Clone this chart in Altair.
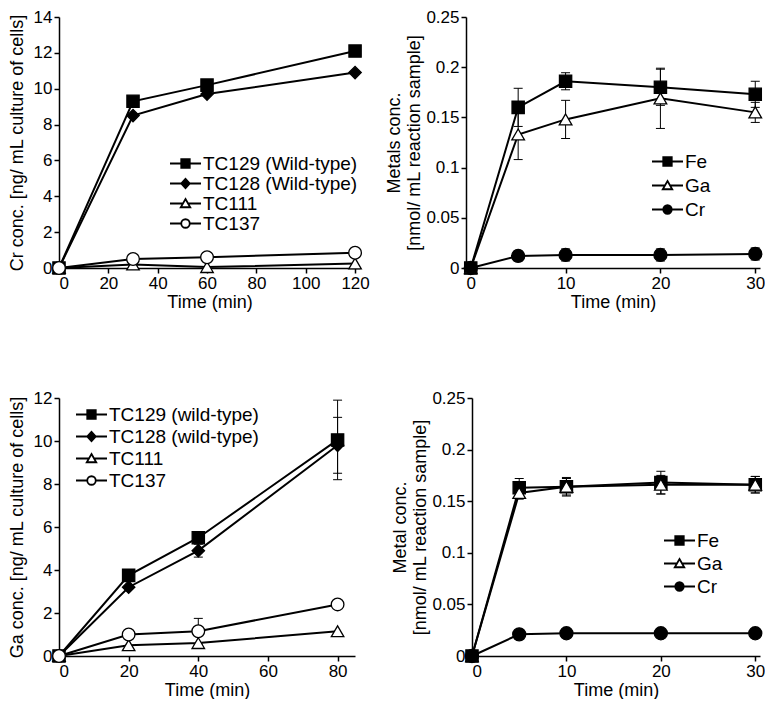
import altair as alt
import pandas as pd

FONT = "Liberation Sans"

# ---------------- Panel A: Cr uptake by strains ----------------
a_time = [0, 30, 60, 120]
a_series = ["TC129 (Wild-type)", "TC128 (Wild-type)", "TC111", "TC137"]
a_tc129 = [0, 9.3, 10.2, 12.1]
a_tc128 = [0, 8.5, 9.7, 10.9]
a_tc111 = [0, 0.2, 0.05, 0.25]
a_tc137 = [0, 0.5, 0.6, 0.85]

# ---------------- Panel B: metals in reaction sample ----------------
b_time = [0, 5, 10, 20, 30]
b_series = ["Fe", "Ga", "Cr"]
b_fe = [0, 0.160, 0.186, 0.180, 0.173]
b_fe_err = [0, 0.019, 0.0085, 0.018, 0.013]
b_ga = [0, 0.133, 0.148, 0.169, 0.155]
b_ga_err = [0, 0.025, 0.019, 0.030, 0.010]
b_cr = [0, 0.012, 0.013, 0.013, 0.014]
b_cr_err = [0, 0.005, 0.006, 0.006, 0.006]

# ---------------- Panel C: Ga uptake by strains ----------------
c_time = [0, 20, 40, 80]
c_series = ["TC129 (wild-type)", "TC128 (wild-type)", "TC111", "TC137"]
c_tc129 = [0, 3.75, 5.5, 10.05]
c_tc129_err = [0, 0, 0, 1.85]
c_tc128 = [0, 3.2, 4.9, 9.8]
c_tc128_err = [0, 0, 0.3, 1.3]
c_tc111 = [0, 0.5, 0.6, 1.15]
c_tc111_err = [0, 0, 0, 0]
c_tc137 = [0, 1.0, 1.15, 2.4]
c_tc137_err = [0, 0, 0.6, 0]

# ---------------- Panel D: metals in reaction sample ----------------
d_time = [0, 5, 10, 20, 30]
d_series = ["Fe", "Ga", "Cr"]
d_fe = [0, 0.163, 0.164, 0.168, 0.166]
d_fe_err = [0, 0.009, 0.009, 0.011, 0.008]
d_ga = [0, 0.158, 0.164, 0.166, 0.166]
d_ga_err = [0, 0.006, 0.008, 0.009, 0.008]
d_cr = [0, 0.021, 0.022, 0.022, 0.022]
d_cr_err = [0, 0, 0, 0, 0]


def long_df(times, series, values, errors=None):
    rows = []
    for i, s in enumerate(series):
        for j, t in enumerate(times):
            v = values[i][j]
            e = errors[i][j] if errors is not None else 0
            rows.append({"t": t, "v": v, "s": s, "lo": v - e, "hi": v + e, "e": e})
    return pd.DataFrame(rows)


# legend symbol paths (unit box scaled by sqrt(symbolSize)/2)
L = "M-3.1,0L3.1,0"
P_SQUARE = L + "M-0.85,-0.85L0.85,-0.85L0.85,0.85L-0.85,0.85Z"
P_DIAMOND = L + "M0,-0.95L0.85,0L0,0.95L-0.85,0Z"
P_TRI = "M-3.1,0L-0.45,0M0.45,0L3.1,0M0,-0.9L0.95,0.75L-0.95,0.75Z"
P_CIRC_OPEN = "M-3.1,0L-0.85,0M0.85,0L3.1,0M0.85,0A0.85,0.85,0,1,1,-0.85,0A0.85,0.85,0,1,1,0.85,0Z"
P_CIRC = L + "M0.85,0A0.85,0.85,0,1,1,-0.85,0A0.85,0.85,0,1,1,0.85,0Z"


def panel(df, series, shapes, fills, sizes, leg_paths, xdom, xvals, ydom, yvals,
          yfmt, ytitle, ytp, w, h, lx, ly, rowpad):
    base = alt.Chart(df)
    xs = alt.Scale(domain=xdom, nice=False, zero=False)
    ys = alt.Scale(domain=ydom, nice=False)
    xax = alt.Axis(values=xvals, title="Time (min)", labelOverlap=False)
    yax = alt.Axis(values=yvals, format=yfmt, title=ytitle,
                   titlePadding=ytp, labelOverlap=False)

    def X():
        return alt.X("t:Q", scale=xs, axis=xax)

    def Y(f):
        return alt.Y(f + ":Q", scale=ys, axis=yax)

    lines = base.mark_line(color="black", strokeWidth=2).encode(
        x=X(), y=Y("v"), detail="s:N", order="t:Q")
    errd = base.transform_filter("datum.e > 0")
    rules = errd.mark_rule(color="black", strokeWidth=1).encode(
        x=X(), y=Y("lo"), y2="hi:Q")
    cap_lo = errd.mark_tick(color="black", orient="horizontal", size=9,
                            thickness=1, opacity=1).encode(x=X(), y=Y("lo"))
    cap_hi = errd.mark_tick(color="black", orient="horizontal", size=9,
                            thickness=1, opacity=1).encode(x=X(), y=Y("hi"))
    pts = base.mark_point(filled=True, opacity=1, stroke="black",
                          strokeWidth=1.3).encode(
        x=X(), y=Y("v"),
        shape=alt.Shape("s:N", scale=alt.Scale(domain=series, range=shapes), legend=None),
        fill=alt.Fill("s:N", scale=alt.Scale(domain=series, range=fills), legend=None),
        size=alt.Size("s:N", scale=alt.Scale(domain=series, range=sizes), legend=None),
    )
    leg_props = dict(
        title=None, orient="none", legendX=lx, legendY=ly,
        labelFont=FONT, labelFontSize=19, labelColor="black",
        symbolSize=100, symbolStrokeColor="black", symbolStrokeWidth=1.8,
        symbolOpacity=1, labelOffset=8, rowPadding=rowpad, padding=0,
    )
    leg = base.transform_filter("false").mark_point(
        filled=True, opacity=1, strokeWidth=1.8).encode(
        shape=alt.Shape("s:N", scale=alt.Scale(domain=series, range=leg_paths),
                        legend=alt.Legend(**leg_props)),
        fill=alt.Fill("s:N", scale=alt.Scale(domain=series, range=fills),
                      legend=alt.Legend(**leg_props)),
        stroke=alt.Stroke("s:N", scale=alt.Scale(domain=series,
                                                 range=["black"] * len(series)),
                          legend=alt.Legend(**leg_props)),
    )
    return alt.layer(lines, rules, cap_lo, cap_hi, pts, leg).resolve_scale(
        shape="independent", fill="independent", size="independent",
        stroke="independent"
    ).properties(width=w, height=h)


dfa = long_df(a_time, a_series, [a_tc129, a_tc128, a_tc111, a_tc137])
dfb = long_df(b_time, b_series, [b_fe, b_ga, b_cr], [b_fe_err, b_ga_err, b_cr_err])
dfc = long_df(c_time, c_series, [c_tc129, c_tc128, c_tc111, c_tc137],
              [c_tc129_err, c_tc128_err, c_tc111_err, c_tc137_err])
dfd = long_df(d_time, d_series, [d_fe, d_ga, d_cr], [d_fe_err, d_ga_err, d_cr_err])

pa = panel(dfa, a_series,
           ["square", "diamond", "triangle-up", "circle"],
           ["black", "black", "white", "white"],
           [150, 160, 150, 150],
           [P_SQUARE, P_DIAMOND, P_TRI, P_CIRC_OPEN],
           [0, 122], [0, 20, 40, 60, 80, 100, 120],
           [0, 14], [0, 2, 4, 6, 8, 10, 12, 14], "d",
           "Cr conc. [ng/ mL culture of cells]", 7,
           301, 251, 117, 137, 0)

pb = panel(dfb, b_series,
           ["square", "triangle-up", "circle"],
           ["black", "white", "black"],
           [150, 170, 121],
           [P_SQUARE, P_TRI, P_CIRC],
           [-0.5, 30.5], [0, 10, 20, 30],
           [0, 0.25], [0, 0.05, 0.1, 0.15, 0.2, 0.25], ".2~f",
           ["Metals conc.", "[nmol/ mL reaction sample]"], 2,
           294, 251, 192, 135, 4)

pc = panel(dfc, c_series,
           ["square", "diamond", "triangle-up", "circle"],
           ["black", "black", "white", "white"],
           [150, 160, 150, 150],
           [P_SQUARE, P_DIAMOND, P_TRI, P_CIRC_OPEN],
           [0, 85], [0, 20, 40, 60, 80],
           [0, 12], [0, 2, 4, 6, 8, 10, 12], "d",
           "Ga conc. [ng/ mL culture of cells]", 7,
           296, 258, 23, 7, 2)

pd_ = panel(dfd, d_series,
            ["square", "triangle-up", "circle"],
            ["black", "white", "black"],
            [150, 170, 121],
            [P_SQUARE, P_TRI, P_CIRC],
            [0, 30.5], [0, 10, 20, 30],
            [0, 0.25], [0, 0.05, 0.1, 0.15, 0.2, 0.25], ".2~f",
            ["Metal conc.", "[nmol/ mL reaction sample]"], 2,
            288, 258, 198, 133, 3)

row1 = alt.hconcat(pa, pb, spacing=15)
row2 = alt.hconcat(pc, pd_, spacing=36)

chart = alt.vconcat(row1, row2, spacing=78, padding=0).configure_axis(
    labelFont=FONT, titleFont=FONT, labelFontSize=17, titleFontSize=18,
    labelColor="black", titleColor="black", titleFontWeight="normal",
    domainColor="black", tickColor="black", domainWidth=1.5, tickWidth=1.5,
    tickSize=5, grid=False, labelPadding=2, titlePadding=2, labelOverlap=False,
).configure_view(stroke=None).configure_legend(
    labelFont=FONT
)

chart.save("out.html", embed_options={"renderer": "svg", "actions": False})
